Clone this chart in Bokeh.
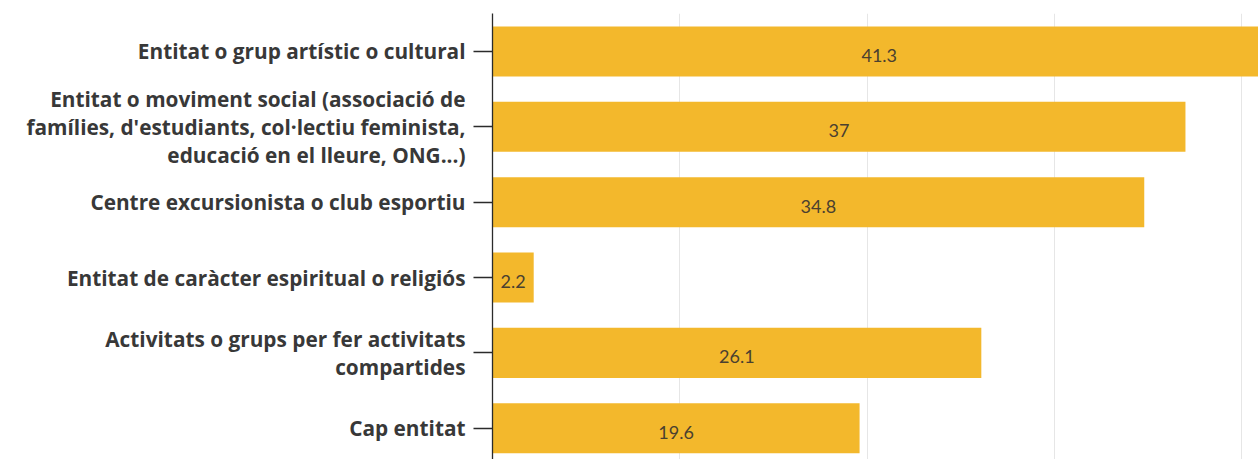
from bokeh.plotting import figure
from bokeh.models import Range1d, FixedTicker, Grid, ColumnDataSource, LinearAxis
from bokeh.core.properties import value
from bokeh.embed import file_html
from bokeh.resources import INLINE

categories = [
    "Entitat o grup artístic o cultural",
    "Entitat o moviment social (associació de\nfamílies, d'estudiants, col·lectiu feminista,\neducació en el lleure, ONG...)",
    "Centre excursionista o club esportiu",
    "Entitat de caràcter espiritual o religiós",
    "Activitats o grups per fer activitats\ncompartides",
    "Cap entitat",
]
values = [41.3, 37, 34.8, 2.2, 26.1, 19.6]
labels = ["41.3", "37", "34.8", "2.2", "26.1", "19.6"]
grid_ticks = [10, 20, 30, 40]

pos = list(range(len(categories)))
src = ColumnDataSource(dict(
    y=pos, v=values, mid=[v / 2 for v in values], lab=labels,
))

p = figure(
    width=1258, height=459, output_backend="svg", toolbar_location=None,
    x_range=Range1d(0, 40.9), y_range=Range1d(5.415, -0.504),
    x_axis_location=None, y_axis_location=None,
    min_border_left=492, min_border_right=0, min_border_top=13, min_border_bottom=0,
    outline_line_color=None, background_fill_color="white",
)
p.xgrid.visible = False
p.ygrid.visible = False

ax = LinearAxis(
    ticker=FixedTicker(ticks=pos),
    major_label_overrides={i: c for i, c in enumerate(categories)},
)
ax.axis_line_color = "#2b2b2b"
ax.axis_line_width = 1.3
ax.major_tick_line_color = "#2b2b2b"
ax.major_tick_line_width = 1.3
ax.major_tick_out = 19
ax.major_tick_in = 0
ax.minor_tick_out = 0
ax.minor_tick_in = 0
ax.major_label_standoff = 8
ax.major_label_text_font = "Open Sans"
ax.major_label_text_font_style = "bold"
ax.major_label_text_font_size = "20.8px"
ax.major_label_text_color = "#383838"
ax.major_label_text_line_height = 1.0
p.add_layout(ax, "left")

p.add_layout(Grid(dimension=0, ticker=FixedTicker(ticks=grid_ticks),
                  grid_line_color="#e6e6e6", grid_line_width=1))

p.hbar(y="y", right="v", left=0, height=0.664, source=src,
       fill_color="#F3B82C", line_color=None)

p.text(x="mid", y="y", text="lab", source=src, text_align="center",
       text_baseline="middle", y_offset=4, text_font=value("Lato"),
       text_font_size="18px", text_color="#4a4030")

open("out.html", "w").write(file_html(p, INLINE))
